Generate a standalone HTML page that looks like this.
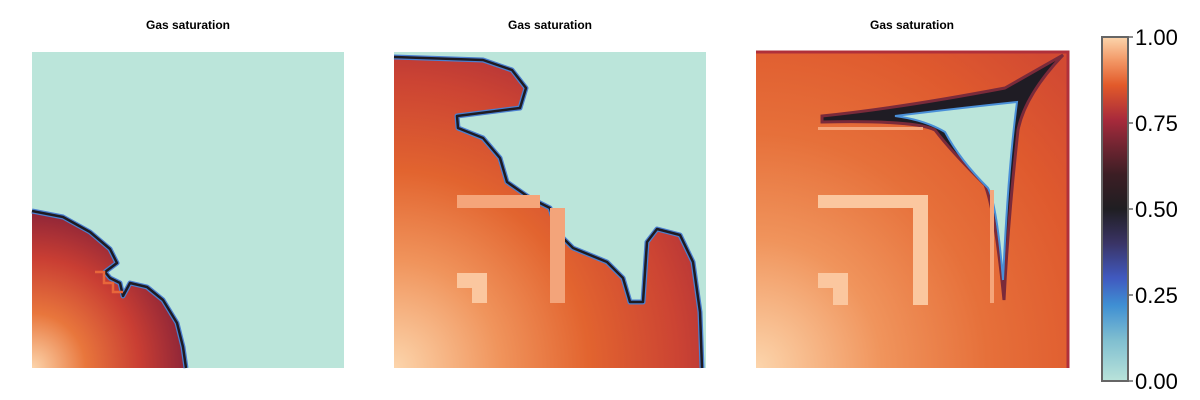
<!DOCTYPE html>
<html><head><meta charset="utf-8"><style>
html,body{margin:0;padding:0;background:#fff;width:1200px;height:400px;overflow:hidden}
svg{display:block;font-family:"Liberation Sans",sans-serif}
</style></head><body>
<svg id="chart" width="1200" height="400" viewBox="0 0 1200 400">
<defs>
<radialGradient id="sat" cx="0" cy="1" r="1.15" gradientUnits="objectBoundingBox">
<stop offset="0" stop-color="#fcd5ac"/><stop offset="0.3" stop-color="#f0945c"/>
<stop offset="0.55" stop-color="#e2642f"/><stop offset="0.8" stop-color="#cc4433"/>
<stop offset="1" stop-color="#a92c3a"/></radialGradient>
<radialGradient id="sat1" cx="0" cy="1" r="1" gradientUnits="objectBoundingBox">
<stop offset="0" stop-color="#fcd5ac"/><stop offset="0.35" stop-color="#e8763c"/>
<stop offset="0.7" stop-color="#c93e33"/><stop offset="1" stop-color="#8e2538"/></radialGradient>
<radialGradient id="sat3" cx="0" cy="1" r="1.35" gradientUnits="objectBoundingBox">
<stop offset="0" stop-color="#fcd5ac"/><stop offset="0.3" stop-color="#f0945c"/>
<stop offset="0.55" stop-color="#e6703a"/><stop offset="0.8" stop-color="#df5a2e"/>
<stop offset="1" stop-color="#d24a32"/></radialGradient>
<linearGradient id="cb" x1="0" y1="1" x2="0" y2="0">
<stop offset="0" stop-color="#b9e3da"/><stop offset="0.12" stop-color="#7fbed0"/>
<stop offset="0.22" stop-color="#3f8fd3"/><stop offset="0.3" stop-color="#4059bf"/>
<stop offset="0.4" stop-color="#3a3466"/><stop offset="0.5" stop-color="#1f1e22"/>
<stop offset="0.6" stop-color="#3c1e24"/><stop offset="0.7" stop-color="#7c2634"/>
<stop offset="0.76" stop-color="#a82a3b"/><stop offset="0.86" stop-color="#e25a2a"/>
<stop offset="0.93" stop-color="#f29664"/><stop offset="1" stop-color="#fcd5ac"/></linearGradient>
</defs>

<g>
<text x="188" y="29" text-anchor="middle" font-size="12" font-weight="bold">Gas saturation</text>
<rect x="32" y="52" width="312" height="316" fill="#bbe5da"/>
<path d="M32,211 L63,217 L90,232 L110,249 L117,263 L105,272 L110,278 L120,283 L123,296 L130,283 L147,287 L163,300 L177,323 L183,347 L186,368 L32,368 Z" fill="url(#sat1)"/>
<path d="M32,211 L63,217 L90,232 L110,249 L117,263 L105,272 L110,278 L120,283 L123,296 L130,283 L147,287 L163,300 L177,323 L183,347 L186,368" fill="none" stroke="#4a7fd0" stroke-width="5" stroke-linejoin="round"/>
<path d="M32,211 L63,217 L90,232 L110,249 L117,263 L105,272 L110,278 L120,283 L123,296 L130,283 L147,287 L163,300 L177,323 L183,347 L186,368" fill="none" stroke="#1e1b22" stroke-width="2.5" stroke-linejoin="round"/>
<path d="M95,272 L104,272 L104,283 L113,283 L113,292 L123,292" fill="none" stroke="#e8663a" stroke-width="2.5"/>
</g>

<g>
<text x="550" y="29" text-anchor="middle" font-size="12" font-weight="bold">Gas saturation</text>
<rect x="394" y="52" width="312" height="316" fill="#bbe5da"/>
<path d="M394,57 L483,60 L512,70 L526,88 L520,108 L457,116 L458,128 L483,138 L500,158 L507,182 L530,198 L550,208 L557,232 L573,248 L607,262 L623,278 L630,302 L643,302 L647,242 L657,229 L680,235 L693,262 L700,312 L702,368 L394,368 Z" fill="url(#sat)"/>
<path d="M394,57 L483,60 L512,70 L526,88 L520,108 L457,116 L458,128 L483,138 L500,158 L507,182 L530,198 L550,208 L557,232 L573,248 L607,262 L623,278 L630,302 L643,302 L647,242 L657,229 L680,235 L693,262 L700,312 L702,368" fill="none" stroke="#4a7fd0" stroke-width="5" stroke-linejoin="round"/>
<path d="M394,57 L483,60 L512,70 L526,88 L520,108 L457,116 L458,128 L483,138 L500,158 L507,182 L530,198 L550,208 L557,232 L573,248 L607,262 L623,278 L630,302 L643,302 L647,242 L657,229 L680,235 L693,262 L700,312 L702,368" fill="none" stroke="#1e1b22" stroke-width="2.5" stroke-linejoin="round"/>
<rect x="457" y="195" width="83" height="13" fill="#f5a57a"/>
<rect x="550" y="208" width="15" height="95" fill="#f3a47a"/>
<path d="M457,273 L487,273 L487,303 L472,303 L472,288 L457,288 Z" fill="#fbc79f"/>
</g>

<g>
<text x="912" y="29" text-anchor="middle" font-size="12" font-weight="bold">Gas saturation</text>
<rect x="756" y="52" width="312" height="316" fill="url(#sat3)"/>
<path d="M756,52 L1068,52 L1068,368" fill="none" stroke="#b0303a" stroke-width="3"/>
<path d="M822,116 Q900,108 1005,88 L1063,55 Q1025,95 1018,130 Q1008,220 1004,300 Q995,210 985,185 Q950,150 935,130 Q915,120 822,122 Z" fill="#1f1c24" stroke="#7a2a3a" stroke-width="3"/>
<path d="M895,116 Q960,108 1017,102 Q1008,170 1003,280 Q997,205 988,188 Q960,160 945,132 Q925,120 895,116 Z" fill="#bbe5da" stroke="#4a8fd8" stroke-width="2"/>
<rect x="818" y="195" width="110" height="13" fill="#fbc79f"/>
<rect x="913" y="208" width="15" height="97" fill="#fbc79f"/>
<rect x="818" y="127" width="105" height="3" fill="#f5a57a"/>
<rect x="990" y="190" width="4" height="113" fill="#f5a57a"/>
<path d="M818,273 L848,273 L848,305 L833,305 L833,288 L818,288 Z" fill="#fbc79f"/>
</g>

<g id="colorbar">
<rect x="1102" y="37" width="26" height="344" fill="url(#cb)" stroke="#666" stroke-width="2"/>
</g>
</svg>
<script>
const tickValues = [0, 0.25, 0.5, 0.75, 1];
const tickLabels = ["0.00", "0.25", "0.50", "0.75", "1.00"];
const cb = document.getElementById('colorbar');
const y = v => 381 - v * 344;
tickValues.forEach((v, i) => {
  const ns = 'http://www.w3.org/2000/svg';
  const ln = document.createElementNS(ns, 'line');
  ln.setAttribute('x1', 1128); ln.setAttribute('x2', 1133);
  ln.setAttribute('y1', y(v)); ln.setAttribute('y2', y(v));
  ln.setAttribute('stroke', '#666'); ln.setAttribute('stroke-width', 1.5);
  
  
  cb.appendChild(ln);
  const t = document.createElementNS(ns, 'text');
  t.setAttribute('x', 1135); t.setAttribute('y', y(v) + 8);
  t.setAttribute('font-size', 22);
  t.textContent = tickLabels[i];
  
  
  cb.appendChild(t);
});
</script>
</body></html>
